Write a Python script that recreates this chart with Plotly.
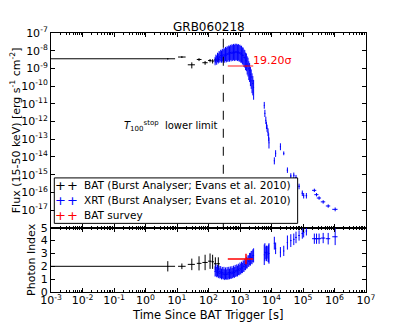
import math

import plotly.graph_objects as go
from plotly.subplots import make_subplots

# ─────────────────────────────────────────
# DATOS
# ─────────────────────────────────────────

# BAT (Burst Analyser)
bat_t        = [5.1, 14.3, 29.5, 50, 78, 112, 135, 165, 205]
bat_t_minus  = [5.0995, 3.5, 7.5, 7.5, 14, 15, 11, 16, 22]
bat_t_plus   = [3.6, 4.5, 7.5, 10, 16, 12, 14, 18, 25]
bat_flux     = [3.5e-9, 4.4e-9, 1.6e-9, 3.2e-9, 2.1e-9, 2.8e-9, 2.6e-9, 3.0e-9, 3.3e-9]
bat_flux_err = [0.3e-9, 0.5e-9, 0.6e-9, 0.6e-9, 0.5e-9, 0.6e-9, 0.7e-9, 0.8e-9, 0.9e-9]
bat_index     = [2.0, 2.0, 2.15, 2.23, 2.3, 2.4, 2.35, 2.2, 2.2]
bat_index_err = [0.4, 0.22, 0.45, 0.55, 0.6, 0.6, 0.55, 0.5, 0.5]

# XRT (Burst Analyser) — WT + PC
xrt_t = [
    162, 172, 182, 193, 205, 217, 230, 244, 259, 275, 291, 309, 327, 347, 368, 390,
    414, 439, 465, 493, 523, 555, 588, 624, 662, 702, 744, 789, 837, 887, 941, 998,
    1058, 1122, 1190, 1262, 1338, 1419, 1505, 1596, 1692, 1795, 1903, 2018, 2140,
    2270, 2407, 2553, 2707,
    5890, 6170, 6610, 6920, 7240, 7760, 8130, 8320,
    12300, 13500, 19200, 24500,
    32000, 41000, 51000, 60000, 75000, 95000, 105000, 128000,
    229000, 269000, 324000, 437000, 631000, 1050000,
]
xrt_t_err = [
    5, 5, 5.5, 6, 6, 6.5, 7, 7, 8, 8, 9, 9, 10, 10, 11, 12,
    12, 13, 14, 15, 16, 17, 18, 19, 20, 21, 22, 24, 25, 27, 28, 30,
    32, 34, 36, 38, 40, 43, 45, 48, 51, 54, 57, 61, 64,
    68, 72, 77, 81,
    120, 150, 170, 150, 170, 200, 150, 100,
    400, 500, 700, 800,
    1500, 2000, 2500, 3000, 4000, 5000, 5000, 7000,
    35000, 40000, 50000, 70000, 100000, 200000,
]
xrt_flux = [
    2.6e-9, 3.4e-9, 2.9e-9, 4.1e-9, 3.6e-9, 4.8e-9, 4.2e-9, 5.3e-9, 4.6e-9, 5.6e-9,
    4.9e-9, 6.0e-9, 5.2e-9, 6.5e-9, 5.7e-9, 6.9e-9, 6.1e-9, 7.4e-9, 6.6e-9, 7.9e-9,
    7.0e-9, 8.3e-9, 7.4e-9, 8.6e-9, 7.6e-9, 8.8e-9, 7.8e-9, 8.7e-9, 7.7e-9, 8.4e-9,
    7.3e-9, 7.8e-9, 6.6e-9, 6.9e-9, 5.6e-9, 5.5e-9, 4.3e-9, 4.0e-9, 2.9e-9, 2.6e-9,
    1.8e-9, 1.5e-9, 0.95e-9, 0.75e-9, 0.45e-9, 0.33e-9, 0.2e-9, 0.14e-9, 0.085e-9,
    8.3e-12, 2.9e-12, 1.17e-12, 6.2e-13, 4.2e-13, 2.5e-13, 1.3e-13, 6.3e-14,
    6.0e-15, 1.6e-14, 3.8e-14, 1.6e-14,
    1.8e-15, 8.5e-16, 9.3e-16, 6.8e-16, 2.2e-16, 9.0e-17, 6.5e-17, 6.5e-17,
    1.3e-16, 7.4e-17, 4.8e-17, 2.9e-17, 1.7e-17, 1.1e-17,
]
xrt_flux_minus = [
    1.1e-9, 1.5e-9, 1.3e-9, 1.9e-9, 1.7e-9, 2.4e-9, 2.1e-9, 2.8e-9, 2.5e-9, 3.1e-9,
    2.8e-9, 3.5e-9, 3.1e-9, 3.9e-9, 3.5e-9, 4.3e-9, 3.8e-9, 4.6e-9, 4.2e-9, 5.0e-9,
    4.5e-9, 5.3e-9, 4.8e-9, 5.6e-9, 5.0e-9, 5.8e-9, 5.1e-9, 5.7e-9, 5.1e-9, 5.6e-9,
    4.9e-9, 5.3e-9, 4.5e-9, 4.8e-9, 3.9e-9, 3.9e-9, 3.1e-9, 2.9e-9, 2.1e-9, 1.9e-9,
    1.35e-9, 1.15e-9, 0.73e-9, 0.58e-9, 0.35e-9, 0.26e-9, 0.16e-9, 0.11e-9, 0.068e-9,
    3.0e-12, 1.1e-12, 4.5e-13, 2.4e-13, 1.6e-13, 1.0e-13, 5.5e-14, 3.3e-14,
    2.2e-15, 0.6e-14, 1.4e-14, 0.35e-14,
    5.5e-16, 2.6e-16, 2.8e-16, 2.0e-16, 0.7e-16, 2.8e-17, 2.0e-17, 2.0e-17,
    2.6e-17, 1.5e-17, 1.0e-17, 0.6e-17, 0.35e-17, 0.25e-17,
]
xrt_flux_plus = [
    1.9e-9, 2.6e-9, 2.4e-9, 3.6e-9, 3.4e-9, 4.9e-9, 4.5e-9, 6.0e-9, 5.6e-9, 7.2e-9,
    6.6e-9, 8.4e-9, 7.6e-9, 9.8e-9, 8.9e-9, 11.0e-9, 10.0e-9, 12.3e-9, 11.2e-9, 13.6e-9,
    12.3e-9, 14.8e-9, 13.4e-9, 15.6e-9, 14.0e-9, 16.2e-9, 14.5e-9, 16.0e-9, 14.2e-9, 15.3e-9,
    13.5e-9, 14.0e-9, 11.9e-9, 12.2e-9, 9.8e-9, 9.5e-9, 7.4e-9, 6.8e-9, 4.9e-9, 4.4e-9,
    3.0e-9, 2.5e-9, 1.6e-9, 1.25e-9, 0.75e-9, 0.55e-9, 0.33e-9, 0.23e-9, 0.14e-9,
    4.5e-12, 1.7e-12, 7.0e-13, 3.7e-13, 2.5e-13, 1.6e-13, 9.0e-14, 6.0e-14,
    3.5e-15, 0.8e-14, 2.1e-14, 0.45e-14,
    7.5e-16, 3.5e-16, 3.8e-16, 2.8e-16, 0.9e-16, 3.7e-17, 2.7e-17, 2.7e-17,
    3.2e-17, 1.8e-17, 1.2e-17, 0.7e-17, 0.4e-17, 0.3e-17,
]
xrt_index = [
    1.6, 1.7, 1.55, 1.65, 1.5, 1.6, 1.45, 1.55, 1.4, 1.5, 1.38, 1.48, 1.35, 1.45,
    1.36, 1.47, 1.38, 1.5, 1.4, 1.52, 1.43, 1.55, 1.47, 1.6, 1.52, 1.65, 1.57, 1.7,
    1.63, 1.76, 1.7, 1.84, 1.78, 1.92, 1.87, 2.02, 1.98, 2.14, 2.1, 2.28, 2.25, 2.42,
    2.4, 2.56, 2.55, 2.7, 2.68, 2.82, 2.85,
    2.9, 3.1, 3.05, 3.0, 3.1, 2.95, 3.0, 3.0,
    3.8, 3.4, 3.1, 3.2,
    3.85, 4.0, 4.1, 4.25, 4.4, 4.55, 4.65, 4.75,
    4.15, 4.15, 4.15, 4.2, 4.15, 4.3,
]
xrt_index_err = [
    0.4, 0.45, 0.4, 0.45, 0.42, 0.45, 0.4, 0.47, 0.42, 0.45, 0.4, 0.48, 0.42, 0.46,
    0.4, 0.48, 0.43, 0.46, 0.41, 0.47, 0.42, 0.46, 0.4, 0.45, 0.42, 0.46, 0.4, 0.45,
    0.42, 0.44, 0.4, 0.45, 0.41, 0.44, 0.4, 0.45, 0.42, 0.44, 0.4, 0.45, 0.42, 0.44,
    0.45, 0.48, 0.5, 0.5, 0.52, 0.5, 0.55,
    0.8, 0.7, 0.5, 0.6, 0.5, 0.6, 0.7, 0.8,
    0.5, 0.45, 0.4, 0.4,
    0.55, 0.5, 0.45, 0.45, 0.4, 0.4, 0.4, 0.35,
    0.4, 0.4, 0.4, 0.4, 0.45, 0.65,
]

# BAT survey
survey_t        = [1550]
survey_t_minus  = [1140]
survey_t_plus   = [1080]
survey_flux     = [1.35e-9]
survey_flux_err = [0.1e-9]
survey_index     = [2.57]
survey_index_err = [0.4]
survey_signif = "19.20σ"

t100_lower = 295  # T100 stop lower limit [s]

x_exps    = [-3, -2, -1, 0, 1, 2, 3, 4, 5, 6, 7]
flux_exps = [-17, -16, -15, -14, -13, -12, -11, -10, -9, -8, -7]
index_ticks = [0, 1, 2, 3, 4, 5]

leyenda = [
    ("BAT (Burst Analyser; Evans et al. 2010)", "black"),
    ("XRT (Burst Analyser; Evans et al. 2010)", "#0000ff"),
    ("BAT survey", "#ff0000"),
]

COLORES = {"bat": "black", "xrt": "#0000ff", "survey": "#ff0000"}
FUENTE = "DejaVu Sans"


def _puntos(fig, t, tm, tp, y, ym, yp, color, row, width=1):
    """Puntos sólo con barras de error (sin marcador), estilo errorbar."""
    fig.add_trace(go.Scatter(
        x=t, y=y, mode="markers",
        marker=dict(size=1, color=color),
        error_x=dict(type="data", array=tp, arrayminus=tm, symmetric=False,
                     color=color, thickness=width, width=0),
        error_y=dict(type="data", array=yp, arrayminus=ym, symmetric=False,
                     color=color, thickness=width, width=0),
        showlegend=False, hoverinfo="skip",
    ), row=row, col=1)


fig = make_subplots(rows=2, cols=1, shared_xaxes=True,
                    vertical_spacing=0, row_heights=[0.752, 0.248])

# Flujo
_puntos(fig, bat_t, bat_t_minus, bat_t_plus, bat_flux, bat_flux_err, bat_flux_err,
        COLORES["bat"], 1)
_puntos(fig, xrt_t, xrt_t_err, xrt_t_err, xrt_flux, xrt_flux_minus, xrt_flux_plus,
        COLORES["xrt"], 1)
_puntos(fig, survey_t, survey_t_minus, survey_t_plus, survey_flux, survey_flux_err,
        survey_flux_err, "rgba(255,0,0,0.6)", 1, width=1.5)

# Índice de fotones
_puntos(fig, bat_t, bat_t_minus, bat_t_plus, bat_index, bat_index_err, bat_index_err,
        COLORES["bat"], 2)
_puntos(fig, xrt_t, xrt_t_err, xrt_t_err, xrt_index, xrt_index_err, xrt_index_err,
        COLORES["xrt"], 2)
_puntos(fig, survey_t, survey_t_minus, survey_t_plus, survey_index, survey_index_err,
        survey_index_err, COLORES["survey"], 2, width=1.5)

# Línea T100 (sólo panel superior)
fig.add_shape(type="line", xref="x", yref="y domain",
              x0=t100_lower, x1=t100_lower, y0=0, y1=1, layer="above",
              line=dict(color="black", width=1, dash="dash"))

fig.add_annotation(
    x=math.log10(t100_lower), y=-12.25, xref="x", yref="y",
    text="<i>T</i><sub>100</sub><sup>stop</sup>  lower limit",
    showarrow=False, xanchor="right", xshift=-3,
    font=dict(size=10, color="black", family=FUENTE),
)
fig.add_annotation(
    x=math.log10(survey_t[0] + survey_t_plus[0]), y=math.log10(survey_flux[0]),
    xref="x", yref="y", text=survey_signif, showarrow=False,
    xanchor="left", yanchor="bottom", xshift=-2, yshift=-3,
    font=dict(size=11, color=COLORES["survey"], family=FUENTE),
)

# Leyenda dibujada a mano (la de plotly es más alta que la original)
fig.add_shape(type="rect", xref="paper", yref="paper",
              x0=0.0105, x1=0.783, y0=0.265, y1=0.4405, layer="above",
              fillcolor="white", line=dict(color="black", width=1))
for i, (nombre, color) in enumerate(leyenda):
    fila_y = 0.413 - i * 0.058
    for xm in (0.029, 0.069):
        fig.add_annotation(x=xm, y=fila_y, xref="paper", yref="paper", text="+",
                           showarrow=False, xanchor="center", yanchor="middle",
                           font=dict(size=13, color=color, family=FUENTE))
    fig.add_annotation(x=0.0975, y=fila_y, xref="paper", yref="paper", text=nombre,
                       showarrow=False, xanchor="left", yanchor="middle",
                       font=dict(size=10.5, color="black", family=FUENTE))

# Título y título del eje x
fig.add_annotation(x=0.5, y=1.025, xref="paper", yref="paper", text="GRB060218",
                   showarrow=False, xanchor="center", yanchor="middle",
                   font=dict(size=12, color="black", family=FUENTE))
fig.add_annotation(x=0.498, y=-0.089, xref="paper", yref="paper",
                   text="Time Since BAT Trigger [s]",
                   showarrow=False, xanchor="center", yanchor="middle",
                   font=dict(size=11.5, color="black", family=FUENTE))

eje = dict(showline=True, linecolor="black", linewidth=1, mirror="allticks",
           ticks="inside", ticklen=4, tickcolor="black", showgrid=False,
           zeroline=False, automargin=False)
menor = dict(ticks="inside", ticklen=2, tickcolor="black", showgrid=False, dtick="D1")

fig.update_xaxes(type="log", range=[-3, 7], tickmode="array",
                 tickvals=[10 ** e for e in x_exps],
                 ticktext=[f"10<sup>{e}</sup>" for e in x_exps],
                 minor=menor, ticklabelstandoff=-2, **eje)
fig.update_xaxes(showticklabels=False, row=1, col=1)

fig.update_yaxes(type="log", range=[-18, -7], tickmode="array",
                 tickvals=[10 ** e for e in flux_exps],
                 ticktext=[f"10<sup>{e}</sup>" for e in flux_exps],
                 title=dict(text="Flux (15-50 keV) [erg s<sup>-1</sup> cm<sup>-2</sup>]",
                            standoff=3, font=dict(size=11)),
                 row=1, col=1, **eje)
fig.update_yaxes(range=[0, 5], tickmode="array", tickvals=index_ticks,
                 title=dict(text="Photon Index", standoff=2, font=dict(size=11)),
                 row=2, col=1, **eje)

# La página deja 8 px de margen al body: se compensa con tamaño y márgenes
fig.update_layout(
    width=399, height=318,
    margin=dict(l=43, r=41, t=24.5, b=34),
    font=dict(family=FUENTE, size=11, color="black"),
    showlegend=False,
    plot_bgcolor="white",
    paper_bgcolor="white",
)

fig.write_html("out.html")
